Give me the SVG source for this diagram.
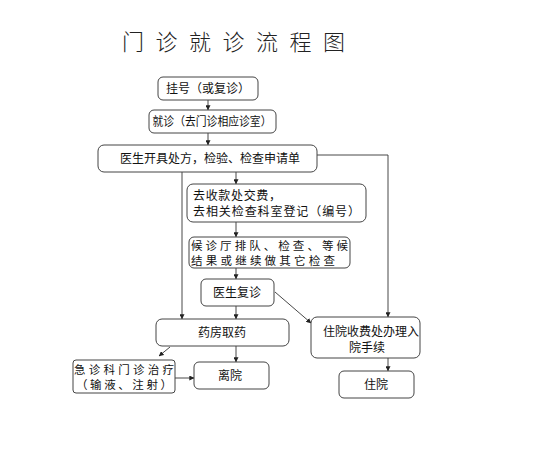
<svg xmlns="http://www.w3.org/2000/svg" width="552" height="453" viewBox="0 0 552 453">
<defs>
<marker id="ah" viewBox="0 0 8 8" refX="7.5" refY="4" markerWidth="5" markerHeight="5" orient="auto" markerUnits="userSpaceOnUse">
<path d="M0,0 L8,4 L0,8 z" fill="#222"/>
</marker>
</defs>
<style>
.b{fill:#fff;stroke:#444;stroke-width:1}
.t{font-family:"Noto Sans CJK SC","Noto Sans",sans-serif;fill:#111;font-size:12px}
.m{font-size:11.5px}
.c{fill:none;stroke:#333;stroke-width:0.9}
.title{font-family:"Noto Sans CJK SC",sans-serif;font-size:22px;fill:#222;font-weight:300}
</style>
<rect width="552" height="453" fill="#fff"/>
<text class="title" x="122" y="50" letter-spacing="11.5">门诊就诊流程图</text>
<g id="connectors">
<line class="c" x1="208" y1="100" x2="208" y2="110" marker-end="url(#ah)"/>
<line class="c" x1="208" y1="133" x2="208" y2="145" marker-end="url(#ah)"/>
<line class="c" x1="236" y1="172" x2="236" y2="184" marker-end="url(#ah)"/>
<line class="c" x1="236" y1="222" x2="236" y2="237" marker-end="url(#ah)"/>
<line class="c" x1="236" y1="268" x2="236" y2="279" marker-end="url(#ah)"/>
<line class="c" x1="236" y1="306" x2="236" y2="319" marker-end="url(#ah)"/>
<line class="c" x1="236" y1="346" x2="236" y2="362" marker-end="url(#ah)"/>
<polyline class="c" points="182,172 182,319" marker-end="url(#ah)"/>
<polyline class="c" points="317,155 388,155 388,317" marker-end="url(#ah)"/>
<line class="c" x1="275" y1="292" x2="311" y2="323" marker-end="url(#ah)"/>
<line class="c" x1="170" y1="347" x2="159" y2="356" marker-end="url(#ah)"/>
<line class="c" x1="175" y1="378" x2="194" y2="378" marker-end="url(#ah)"/>
<line class="c" x1="388" y1="358" x2="388" y2="371" marker-end="url(#ah)"/>
</g>
<g id="n1"><rect class="b" x="158" y="77" width="100" height="23" rx="5"/><text class="t" x="208" y="93" text-anchor="middle">挂号（或复诊）</text></g>
<g id="n2"><rect class="b" x="149" y="110" width="127" height="23" rx="5"/><text class="t" x="212" y="126" text-anchor="middle" textLength="119" lengthAdjust="spacingAndGlyphs">就诊（去门诊相应诊室）</text></g>
<g id="n3"><rect class="b" x="98" y="145" width="219" height="27" rx="6"/><text class="t" x="210" y="163" text-anchor="middle">医生开具处方，检验、检查申请单</text></g>
<g id="n4"><rect class="b" x="187" y="184" width="179" height="38" rx="6"/><text class="t" x="193" y="200" textLength="88" lengthAdjust="spacing">去收款处交费，</text><text class="t" x="193" y="216" textLength="167" lengthAdjust="spacing">去相关检查科室登记（编号）</text></g>
<g id="n5"><rect class="b" x="189" y="237" width="161" height="31" rx="5"/><text class="t m" x="191" y="250" textLength="157" lengthAdjust="spacing">候诊厅排队、检查、等候</text><text class="t m" x="191" y="265" textLength="144" lengthAdjust="spacing">结果或继续做其它检查</text></g>
<g id="n6"><rect class="b" x="201" y="279" width="73" height="27" rx="5"/><text class="t" x="237" y="297" text-anchor="middle">医生复诊</text></g>
<g id="n7"><rect class="b" x="156" y="319" width="133" height="27" rx="6"/><text class="t" x="222" y="337" text-anchor="middle">药房取药</text></g>
<g id="n8"><rect class="b" x="311" y="317" width="109" height="41" rx="6"/><text class="t" x="371" y="336" text-anchor="middle">住院收费处办理入</text><text class="t" x="367" y="352" text-anchor="middle">院手续</text></g>
<g id="n9"><rect class="b" x="73" y="360" width="102" height="33" rx="3"/><text class="t m" x="124" y="374" text-anchor="middle" textLength="100" lengthAdjust="spacing">急诊科门诊治疗</text><text class="t m" x="124" y="389" text-anchor="middle" textLength="96" lengthAdjust="spacing">（输液、注射）</text></g>
<g id="n10"><rect class="b" x="194" y="362" width="75" height="27" rx="5"/><text class="t" x="230" y="380" text-anchor="middle">离院</text></g>
<g id="n11"><rect class="b" x="339" y="371" width="75" height="27" rx="5"/><text class="t" x="376" y="389" text-anchor="middle">住院</text></g>
</svg>
